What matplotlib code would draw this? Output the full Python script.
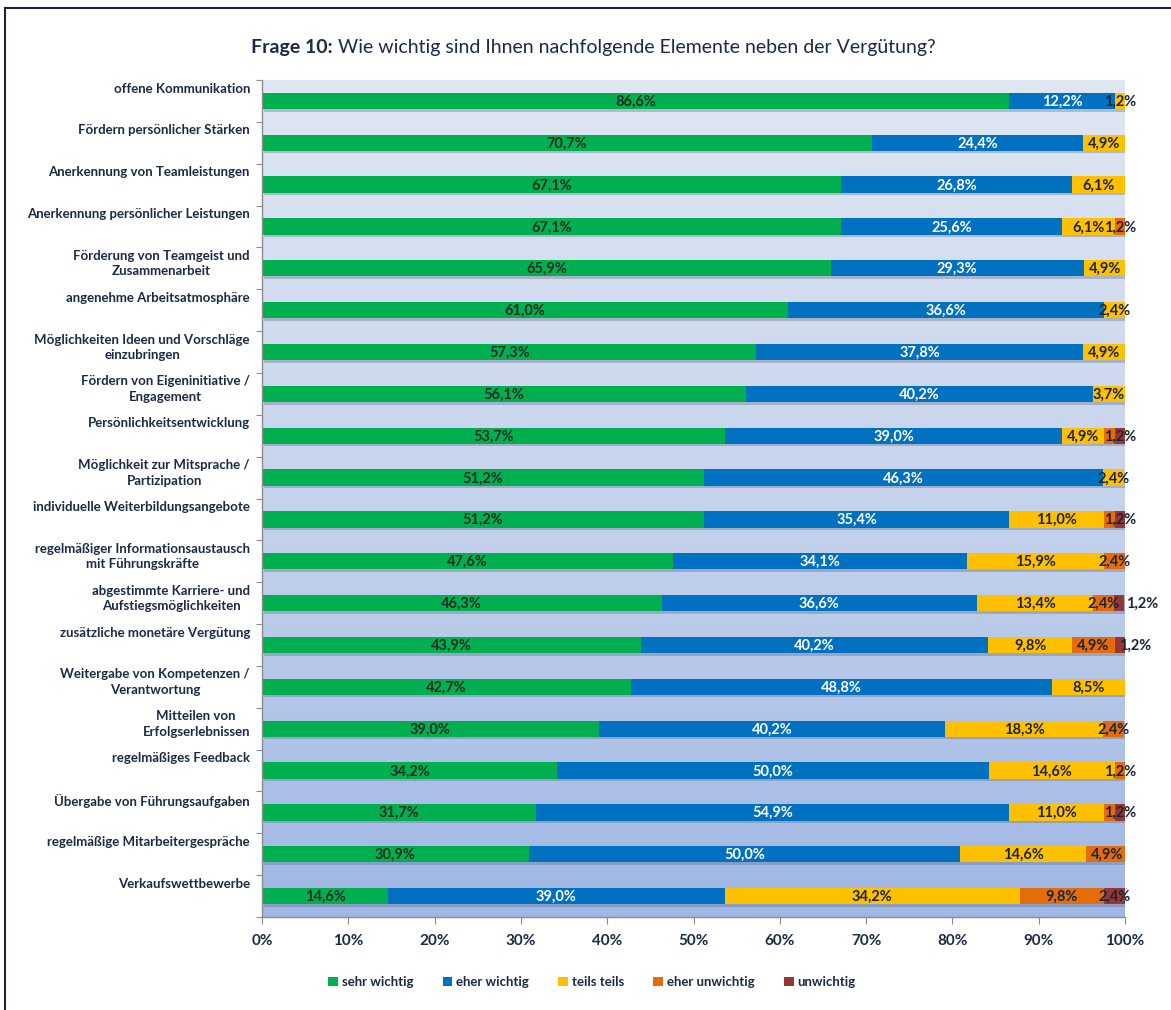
import matplotlib
matplotlib.use("Agg")
import matplotlib.pyplot as plt
import numpy as np
from matplotlib.lines import Line2D
from matplotlib.patches import Patch
from matplotlib.colors import LinearSegmentedColormap

plt.rcParams['font.family'] = ['Lato', 'DejaVu Sans']

categories = [
    "offene Kommunikation",
    "Fördern persönlicher Stärken",
    "Anerkennung von Teamleistungen",
    "Anerkennung persönlicher Leistungen",
    "Förderung von Teamgeist und\nZusammenarbeit",
    "angenehme Arbeitsatmosphäre",
    "Möglichkeiten Ideen und Vorschläge\neinzubringen",
    "Fördern von Eigeninitiative /\nEngagement",
    "Persönlichkeitsentwicklung",
    "Möglichkeit zur Mitsprache /\nPartizipation",
    "individuelle Weiterbildungsangebote",
    "regelmäßiger Informationsaustausch\nmit Führungskräfte",
    "abgestimmte Karriere- und\nAufstiegsmöglichkeiten",
    "zusätzliche monetäre Vergütung",
    "Weitergabe von Kompetenzen /\nVerantwortung",
    "Mitteilen von\nErfolgserlebnissen",
    "regelmäßiges Feedback",
    "Übergabe von Führungsaufgaben",
    "regelmäßige Mitarbeitergespräche",
    "Verkaufswettbewerbe",
]
sehr_wichtig = [86.6, 70.7, 67.1, 67.1, 65.9, 61.0, 57.3, 56.1, 53.7, 51.2,
                51.2, 47.6, 46.3, 43.9, 42.7, 39.0, 34.2, 31.7, 30.9, 14.6]
eher_wichtig = [12.2, 24.4, 26.8, 25.6, 29.3, 36.6, 37.8, 40.2, 39.0, 46.3,
                35.4, 34.1, 36.6, 40.2, 48.8, 40.2, 50.0, 54.9, 50.0, 39.0]
teils_teils = [1.2, 4.9, 6.1, 6.1, 4.9, 2.4, 4.9, 3.7, 4.9, 2.4,
               11.0, 15.9, 13.4, 9.8, 8.5, 18.3, 14.6, 11.0, 14.6, 34.2]
eher_unwichtig = [0, 0, 0, 1.2, 0, 0, 0, 0, 1.2, 0,
                  1.2, 2.4, 2.4, 4.9, 0, 2.4, 1.2, 1.2, 4.9, 9.8]
unwichtig = [0, 0, 0, 0, 0, 0, 0, 0, 1.2, 0,
             1.2, 0, 1.2, 1.2, 0, 0, 0, 1.2, 0, 2.4]
series_names = ["sehr wichtig", "eher wichtig", "teils teils", "eher unwichtig", "unwichtig"]
xtick_labels = ["0%", "10%", "20%", "30%", "40%", "50%", "60%", "70%", "80%", "90%", "100%"]

colors = ["#00b050", "#0070c0", "#ffc000", "#e46c0a", "#953735"]
label_colors = ["#1b2e22", "white", "#1b2433", "#1b2433", "#1b2433"]
navy = "#1c2a44"

W, H = 1171, 1010
fig = plt.figure(figsize=(W / 100, H / 100), dpi=100)
fig.patch.set_facecolor("white")

x0, x1, y0, y1 = 262, 1125, 80, 917
ax = fig.add_axes([x0 / W, 1 - y1 / H, (x1 - x0) / W, (y1 - y0) / H])
n = len(categories)
ax.set_xlim(0, 100)
ax.set_ylim(n, 0)

# gradient background
cmap = LinearSegmentedColormap.from_list("bg", ["#dfe7f2", "#c6d3ec", "#9fb7e4"])
grad = np.linspace(0, 1, 256).reshape(-1, 1)
ax.imshow(grad, cmap=cmap, aspect="auto", extent=[0, 100, n, 0], zorder=0)

data = [sehr_wichtig, eher_wichtig, teils_teils, eher_unwichtig, unwichtig]
ypos = np.arange(n) + 0.5
bh = 0.39

totals = np.sum(np.array(data), axis=0)
# shadow
ax.barh(ypos + 0.06, totals, height=bh, left=0.25, color="#5a6a85", alpha=0.35,
        zorder=1, linewidth=0)

left = np.zeros(n)
for s, vals in enumerate(data):
    vals = np.array(vals, dtype=float)
    ax.barh(ypos, vals, height=bh, left=left, color=colors[s], zorder=2, linewidth=0)
    for i, v in enumerate(vals):
        if v <= 0:
            continue
        cx = left[i] + v / 2
        # overlapping small labels
        if s == 3 and unwichtig[i] > 0 and v < 2:
            continue
        if s == 4 and i == 12:
            cx = 102.0
        if s == 4 and i == 13:
            cx = 101.2
        txt = f"{v:.1f}%".replace(".", ",")
        ax.text(cx, ypos[i] + 0.02, txt, ha="center", va="center",
                fontsize=10.5, fontweight="bold", color=label_colors[s], zorder=4)
    left += vals

# category labels
for i, c in enumerate(categories):
    ax.text(-0.014, i + 0.06, c, transform=ax.get_yaxis_transform(),
            ha="right", va="top", multialignment="center", linespacing=1.35,
            fontsize=9.5, fontweight="bold", color=navy)

ax.set_yticks(np.arange(n + 1))
ax.set_yticklabels([])
ax.set_xticks(np.arange(0, 101, 10))
ax.set_xticklabels(xtick_labels, fontsize=11, fontweight="bold", color=navy)
ax.tick_params(axis="y", length=4, color="#8c8c8c", direction="out")
ax.tick_params(axis="x", length=5, color="#8c8c8c", direction="out", pad=7)
for sp in ["top", "right"]:
    ax.spines[sp].set_visible(False)
for sp in ["left", "bottom"]:
    ax.spines[sp].set_color("#8c8c8c")
    ax.spines[sp].set_linewidth(1.0)

# title
ty = 1 - 47 / H
t1 = fig.text(251 / W, ty, "Frage 10:", fontsize=14, fontweight="bold",
              color=navy, ha="left", va="center")
fig.canvas.draw()
bb = t1.get_window_extent()
fig.text((bb.x1 + 5) / W, ty, "Wie wichtig sind Ihnen nachfolgende Elemente neben der Vergütung?",
         fontsize=14, color=navy, ha="left", va="center")

# legend
handles = [Patch(facecolor=colors[k], edgecolor="none") for k in range(5)]
leg = fig.legend(handles, series_names, loc="center", bbox_to_anchor=(592 / W, 1 - 982 / H),
                 ncol=5, frameon=False, handlelength=0.75, handleheight=0.75,
                 handletextpad=0.3, columnspacing=2.2,
                 prop={"size": 9.5, "weight": "bold"})
for t in leg.get_texts():
    t.set_color(navy)

# frame lines
fig.add_artist(Line2D([4.5 / W, 4.5 / W], [0, 1 - 8 / H], color="#1a2535", lw=1.5,
                      transform=fig.transFigure))
fig.add_artist(Line2D([4.5 / W, 1], [1 - 8 / H, 1 - 8 / H], color="#1a2535", lw=1.5,
                      transform=fig.transFigure))

fig.savefig("out.png", dpi=100)
